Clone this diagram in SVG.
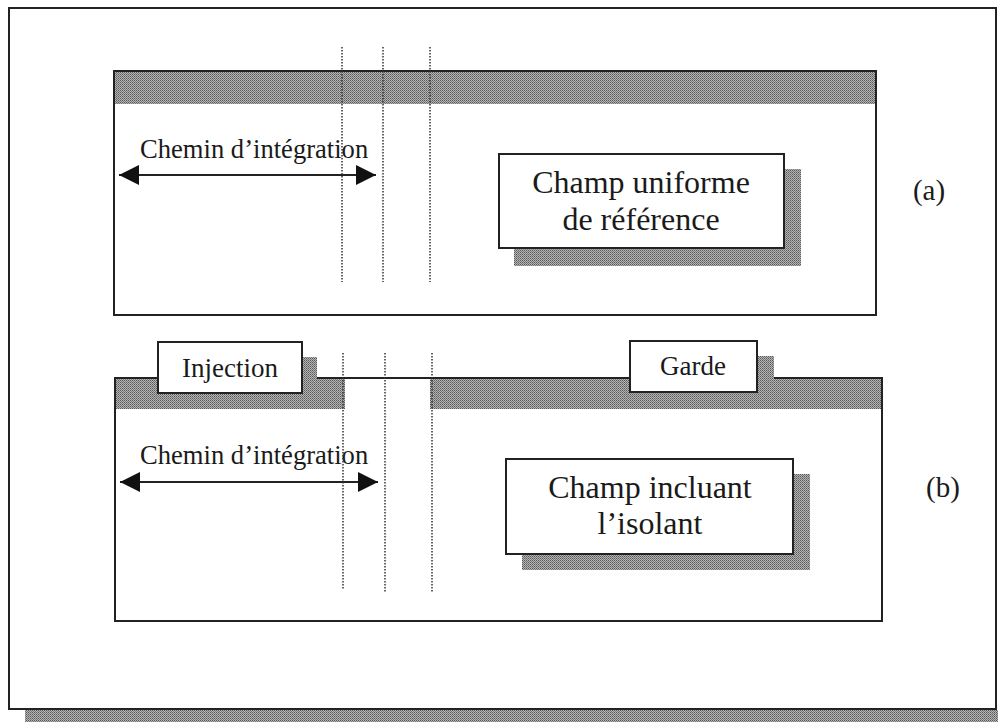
<svg xmlns="http://www.w3.org/2000/svg" width="998" height="722" viewBox="0 0 998 722">
<defs>
<pattern id="hatch" width="2" height="2" patternUnits="userSpaceOnUse">
<rect width="2" height="2" fill="#b4b4b4"/>
<rect width="1" height="1" fill="#5a5a5a"/>
<rect x="1" y="1" width="1" height="1" fill="#7a7a7a"/>
</pattern>
<marker id="ah" viewBox="0 0 20 20" refX="20" refY="10" markerWidth="20" markerHeight="20" markerUnits="userSpaceOnUse" orient="auto-start-reverse">
<path d="M0,0 L20,10 L0,20 Z" fill="#111"/>
</marker>
<style>
text{font-family:'Liberation Serif','Times New Roman','DejaVu Serif',serif;fill:#1a1a1a}
.line{stroke:#222;stroke-width:2;fill:none}
.box{fill:#fff;stroke:#222;stroke-width:2}
.sh{fill:url(#hatch)}
.dot{stroke:#333;stroke-width:1.5;stroke-dasharray:1.5 1.5;fill:none}
</style>
</defs>
<rect width="998" height="722" fill="#fff"/>

<g id="frame">
<rect class="sh" x="25" y="710" width="973" height="12"/>
<rect x="9" y="8" width="987" height="701" fill="none" stroke="#222" stroke-width="2"/>
</g>

<g id="panel-a">
<rect x="114" y="71" width="762" height="244" fill="#fff" stroke="#222" stroke-width="2"/>
<rect class="sh" x="115" y="72" width="760" height="32"/>
<text font-family="Liberation Serif, serif" x="929" y="200" font-size="29" text-anchor="middle">(a)</text>
</g>

<g id="champ-uniforme">
<rect class="sh" x="514" y="169" width="287" height="97"/>
<rect class="box" x="499" y="154" width="285" height="94"/>
<text font-family="Liberation Serif, serif" x="641" y="193" font-size="32" text-anchor="middle">Champ uniforme</text>
<text font-family="Liberation Serif, serif" x="641" y="230" font-size="32" text-anchor="middle">de référence</text>
</g>

<g id="panel-b">
<rect x="115" y="378" width="767" height="243" fill="#fff" stroke="#222" stroke-width="2"/>
<rect class="sh" x="116" y="379" width="229" height="30"/>
<rect class="sh" x="430" y="379" width="451" height="30"/>
<text font-family="Liberation Serif, serif" x="943" y="497" font-size="29" text-anchor="middle">(b)</text>
</g>

<g id="injection">
<rect class="sh" x="173" y="357" width="144" height="36"/>
<rect class="box" x="158" y="342" width="144" height="51"/>
<text font-family="Liberation Serif, serif" x="230" y="377" font-size="27" text-anchor="middle">Injection</text>
</g>

<g id="garde">
<rect class="sh" x="645" y="356" width="129" height="36"/>
<rect class="box" x="630" y="341" width="127" height="51"/>
<text font-family="Liberation Serif, serif" x="693" y="375" font-size="27" text-anchor="middle">Garde</text>
</g>

<g id="champ-incluant">
<rect class="sh" x="522" y="474" width="288" height="96"/>
<rect class="box" x="506" y="459" width="287" height="95"/>
<text font-family="Liberation Serif, serif" x="650" y="498" font-size="32" text-anchor="middle">Champ incluant</text>
<text font-family="Liberation Serif, serif" x="650" y="534" font-size="32" text-anchor="middle">l’isolant</text>
</g>

<g id="labels">
<text font-family="Liberation Serif, serif" x="140" y="158" font-size="26.6">Chemin d’intégration</text>
<text font-family="Liberation Serif, serif" x="140" y="464" font-size="26.6">Chemin d’intégration</text>
</g>

<g id="connectors">
<line class="line" x1="119" y1="175" x2="376" y2="175" marker-start="url(#ah)" marker-end="url(#ah)"/>
<line class="line" x1="120" y1="482" x2="378" y2="482" marker-start="url(#ah)" marker-end="url(#ah)"/>
<line class="dot" x1="342" y1="47" x2="342" y2="282"/>
<line class="dot" x1="383" y1="47" x2="383" y2="282"/>
<line class="dot" x1="430" y1="47" x2="430" y2="282"/>
<line class="dot" x1="343" y1="353" x2="343" y2="589"/>
<line class="dot" x1="385" y1="353" x2="385" y2="593"/>
<line class="dot" x1="432" y1="353" x2="432" y2="593"/>
</g>
</svg>
